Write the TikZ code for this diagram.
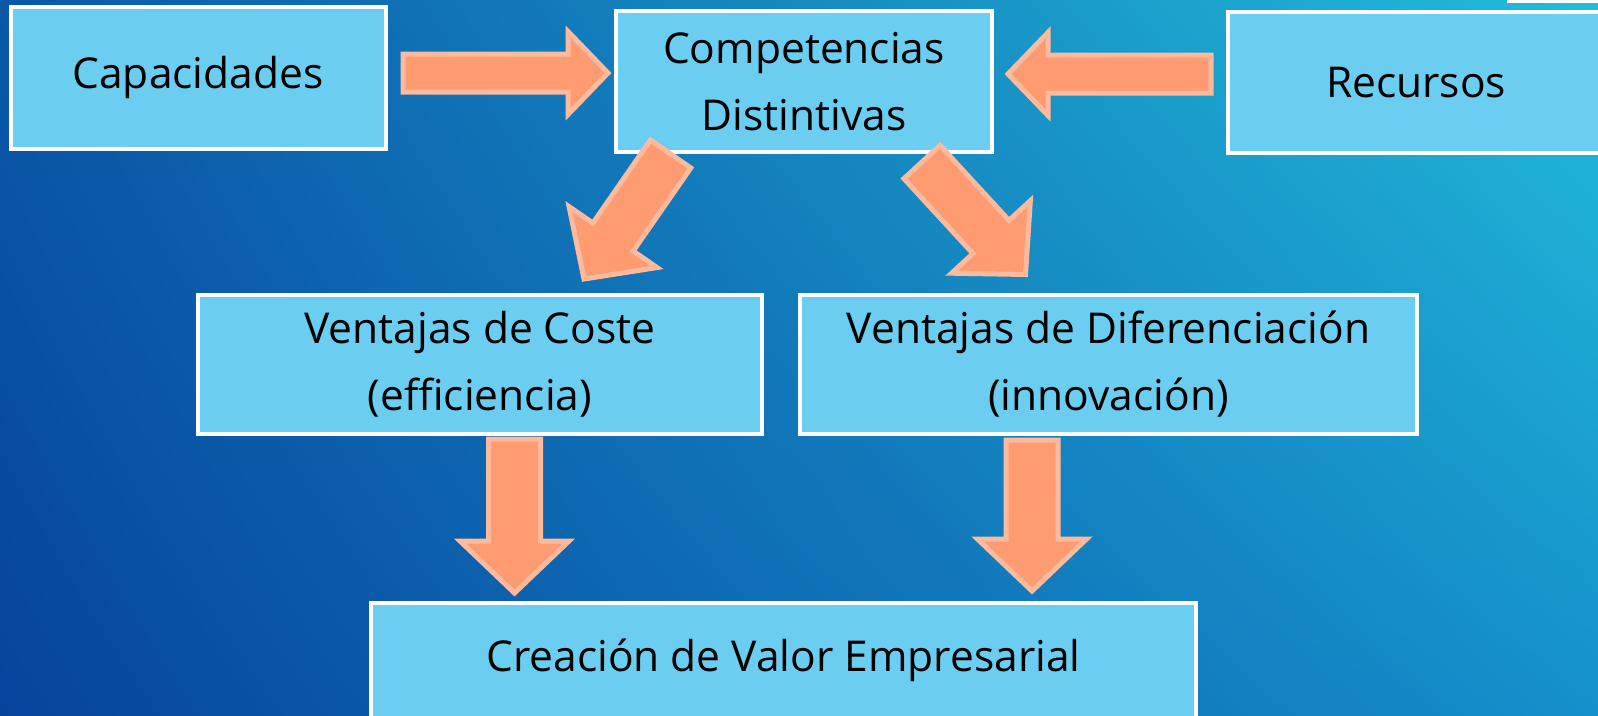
\documentclass[tikz,border=0pt]{standalone}
\usepackage{fontspec}
\setmainfont{Open Sans}
\usetikzlibrary{calc,shadings}
\definecolor{boxfill}{HTML}{6BCDF0}
\definecolor{arrfill}{HTML}{FE9B70}
\definecolor{arrline}{HTML}{FFBA9D}
\definecolor{bgTL}{HTML}{0A58A8}
\definecolor{bgTR}{HTML}{22BCDA}
\definecolor{bgBL}{HTML}{06449C}
\definecolor{bgBR}{HTML}{1590CB}
\tikzset{
  box/.style={draw=white, line width=4pt, fill=boxfill, inner sep=0pt, align=center,
    font=\fontsize{42.5}{67}\selectfont, text=black},
  barrow/.style={fill=arrfill, draw=arrline, line width=5pt, line join=miter},
}
\newcommand\blockarrow[5]{% tail, tip, shaft half, head half, head length
  \coordinate (ba-base) at ($(#2)!#5!(#1)$);
  \draw[barrow] ($(#1)!#3!90:(#2)$) -- ($(ba-base)!#3!90:(#2)$) -- ($(ba-base)!#4!90:(#2)$)
    -- (#2) -- ($(ba-base)!#4!-90:(#2)$) -- ($(ba-base)!#3!-90:(#2)$) -- ($(#1)!#3!-90:(#2)$) -- cycle;
}
\begin{document}
\begin{tikzpicture}[x=1pt, y=-1pt]
\useasboundingbox (0,0) rectangle (1598,715);
\clip (0,0) rectangle (1598,715);
\shade[upper left=bgTL, upper right=bgTR, lower left=bgBL, lower right=bgBR] (0,0) rectangle (1598,715);
\fill[white] (1507,0) rectangle (1598,2.5);
% boxes
\node[box, minimum width=375pt, minimum height=142pt] (cap) at (198,77.5) {Capacidades};
\node[box, minimum width=376pt, minimum height=141pt] (comp) at (804,81.5) {Competencias\\Distintivas};
\node[box, minimum width=376pt, minimum height=141pt] (rec) at (1416,82.5) {Recursos};
\node[box, minimum width=564pt, minimum height=139pt] (coste) at (480,364.5) {Ventajas de Coste\\(efficiencia)};
\node[box, minimum width=617pt, minimum height=139pt] (dif) at (1108.5,364.5) {Ventajas de Diferenciación\\(innovación)};
\node[box, minimum width=825pt, minimum height=115pt] (crea) at (783.5,660.5) {Creación de Valor Empresarial};
% arrows
\coordinate (a1t) at (403,73);
\coordinate (a1h) at (608,73);
\blockarrow{a1t}{a1h}{19pt}{41.5pt}{40pt}
\coordinate (a2t) at (1211,74);
\coordinate (a2h) at (1008,74);
\blockarrow{a2t}{a2h}{19pt}{41.5pt}{40pt}
\coordinate (a3t) at (670.6,154);
\coordinate (a3h) at (584,279);
\blockarrow{a3t}{a3h}{24.5pt}{53.5pt}{51pt}
\coordinate (a4t) at (922,162);
\coordinate (a4h) at (1025.5,274.5);
\blockarrow{a4t}{a4h}{24.5pt}{53.5pt}{51pt}
\coordinate (a5t) at (514.5,439);
\coordinate (a5h) at (514.5,593);
\blockarrow{a5t}{a5h}{26pt}{54.5pt}{52pt}
\coordinate (a6t) at (1032,440);
\coordinate (a6h) at (1032,591);
\blockarrow{a6t}{a6h}{26pt}{54.5pt}{52pt}
\end{tikzpicture}
\end{document}
